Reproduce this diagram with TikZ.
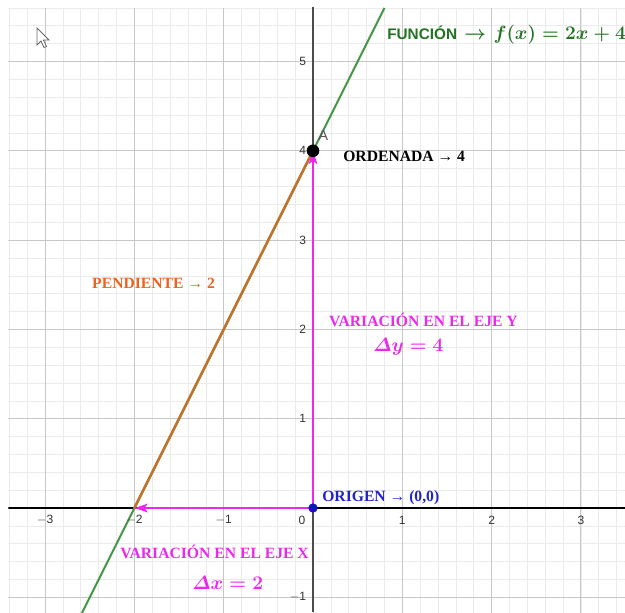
\documentclass[tikz,border=0pt]{standalone}
\usepackage{fontspec}
\setmainfont{Liberation Serif}
\setsansfont{Liberation Sans}
\usepackage{amsmath}
\usetikzlibrary{arrows.meta}
\DeclareMathSymbol{\itDelta}{\mathord}{letters}{"01}
\newcommand\myarrow{\symbol{"2192}}
\newcommand\funclabel{{\fontsize{11.5}{14}\selectfont\sffamily\bfseries FUNCI\'ON}\ {\fontsize{14}{17}\selectfont\mathversion{bold}$\mkern3mu\rightarrow\mkern1mu f(x)=2x+4$}}
\newcommand\dylabel{{\mathversion{bold}$\itDelta y=4$}}
\newcommand\dxlabel{{\mathversion{bold}$\itDelta x=2$}}
\definecolor{fgreen}{RGB}{70,150,70}
\definecolor{tgreen}{RGB}{35,115,35}
\definecolor{segor}{RGB}{190,115,45}
\definecolor{tor}{RGB}{235,100,30}
\definecolor{mag}{RGB}{235,40,235}
\definecolor{tblue}{RGB}{35,35,200}
\definecolor{pblue}{RGB}{20,20,190}
\tikzset{
 minorgrid/.style={draw=black!8, line width=0.5pt},
 majorgrid/.style={draw=black!22, line width=0.7pt},
 ticklab/.style={font=\sffamily\fontsize{9}{10}\selectfont, text=black!80, inner sep=0pt},
 lab/.style={font=\bfseries\fontsize{11.75}{13}\selectfont, inner sep=0pt, anchor=west},
 mathlab/.style={font=\fontsize{14.3}{16}\selectfont, inner sep=0pt, anchor=west},
 vec/.style={draw=mag, line width=1.5pt, -{Stealth[length=10pt,width=6.5pt,inset=2.5pt]}},
}
\begin{document}
\begin{tikzpicture}[x=67pt,y=67pt]
\useasboundingbox (-3.505,-1.165) rectangle (3.494,5.689);
\fill[white] (-3.505,-1.165) rectangle (3.494,5.689);
\begin{scope}
\clip (-3.41,-1.17) rectangle (3.5,5.61);
\draw[minorgrid] (-3.6,-1.2) grid[step=0.2] (3.6,5.6);
\draw[majorgrid] (-3.6,-1.2) grid[step=1] (3.6,5.6);
\draw[black, line width=0.8pt] (-3.41,0) -- (3.5,0);
\draw[black!70, line width=1pt] (0,-1.17) -- (0,5.61);
\coordinate (F1) at (-2.6,-1.2);
\coordinate (F2) at (0.8,5.6);
\draw[fgreen, line width=1.5pt] (F1) -- (F2);
\end{scope}
\foreach \v/\t in {-3/$-$3,-2/$-$2,-1/$-$1,1/1,2/2,3/3}
  \node[ticklab] (tx\v) at (\v,-0.134) {\t};
\node[ticklab] (tx0) at (-0.123,-0.134) {0};
\foreach \v in {1,...,5}
  \node[ticklab, anchor=east] (ty\v) at (-0.075,\v) {\v};
\node[ticklab, anchor=east] (tym1) at (-0.075,-1) {$-$1};
\coordinate (O) at (0,0);
\coordinate (A) at (0,4);
\coordinate (B) at (-2,0);
\draw[segor, line width=1.9pt, line cap=round] (B) -- (A);
\draw[vec] (O) -- (A);
\draw[vec] (O) -- (B);
\node[circle, fill=black, inner sep=0pt, minimum size=9.5pt] (PA) at (A) {};
\node[circle, fill=pblue, inner sep=0pt, minimum size=7pt] (PO) at (O) {};
\node[font=\sffamily\fontsize{11}{12}\selectfont, text=black!65, inner sep=0pt] (LA) at (0.115,4.17) {A};
\node[inner sep=0pt, anchor=west, text=tgreen] (LF) at (0.829,5.297) {\funclabel};
\node[lab, text=black] (LO) at (0.336,3.942) {ORDENADA \myarrow{} 4};
\node[lab, text=tor] (LP) at (-2.475,2.52) {PENDIENTE \myarrow{} 2};
\node[lab, text=mag] (LVY) at (0.179,2.105) {VARIACI\'ON EN EL EJE Y};
\node[mathlab, text=mag] (LDY) at (0.672,1.803) {\dylabel};
\node[lab, text=mag] (LVX) at (-2.161,-0.493) {VARIACI\'ON EN EL EJE X};
\node[mathlab, text=mag] (LDX) at (-1.355,-0.840) {\dxlabel};
\node[lab, text=tblue] (LOR) at (0.101,0.112) {ORIGEN \myarrow{} (0,0)};
\begin{scope}[shift={(-3.091,5.375)}, x=0.75pt, y=-0.75pt]
\draw[black!60, fill=white, line width=0.6pt, line join=miter]
  (0,0) -- (0,17) -- (4,13) -- (7,19.5) -- (9.5,18.5) -- (6.5,12) -- (12,12) -- cycle;
\end{scope}
\end{tikzpicture}
\end{document}
